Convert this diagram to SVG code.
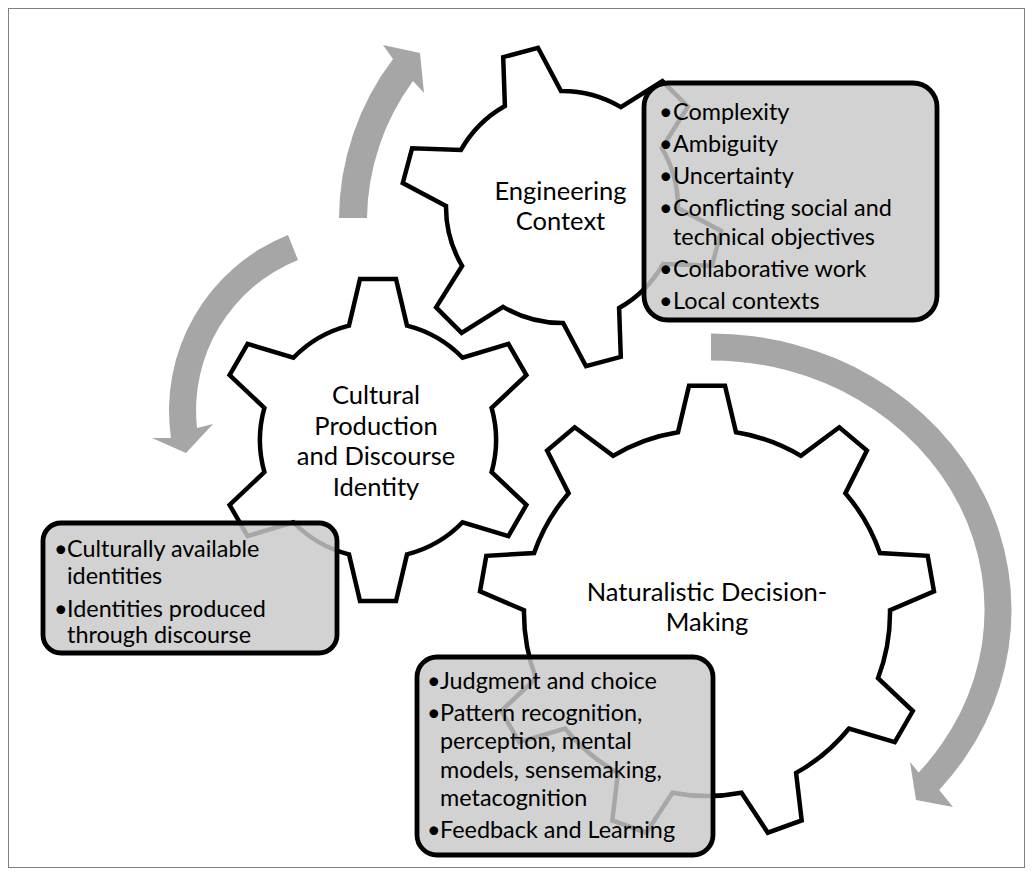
<svg xmlns="http://www.w3.org/2000/svg" width="1033" height="876" viewBox="0 0 1033 876">
<style>
.gear{fill:#ffffff;stroke:#000000;stroke-width:4.5;stroke-linejoin:miter}
.arrow{fill:#a6a6a6;stroke:none}
.box{fill:#c9c9c9;fill-opacity:0.83;stroke:#000000;stroke-width:4.8}
.gt{font-family:Lato,"Liberation Sans",sans-serif;font-size:25.5px;text-anchor:middle;fill:#000000}
.bt{font-family:Lato,"Liberation Sans",sans-serif;font-size:23.4px;fill:#000000}
</style>
<rect x="0" y="0" width="1033" height="876" fill="#ffffff"/>
<rect x="8.5" y="8.5" width="1016" height="859" fill="none" stroke="#7f7f7f" stroke-width="1"/>
<g id="connectors">
<path class="arrow" d="M339,218 A266,266 0 0 1 393,59 L383,45 L420,53 L424,93 L413,81 A237,237 0 0 0 367,218 Z"/>
<path class="arrow" d="M288,235 A189,189 0 0 0 171,438 L152,438 L186,453 L213,424 L197,428 A162,162 0 0 1 298,260 Z"/>
<path class="arrow" d="M711,333.5 A300.5,276.5 0 0 1 939.2,789.9 L953,807 L916,800 L910,762 L918.7,772.4 A273.5,249.5 0 0 0 711,360.5 Z"/>
</g>
<g id="gear-engineering">
<path class="gear" d="M446.0,205.9 L402.8,183.0 L412.1,148.2 L461.0,149.9 A116,116 0 0 1 504.9,106.0 L503.2,57.1 L538.0,47.8 L561.0,91.0 A116,116 0 0 1 620.9,107.1 L662.4,81.1 L687.9,106.6 L661.9,148.1 A116,116 0 0 1 678.0,208.1 L721.2,231.0 L711.9,265.8 L663.0,264.1 A116,116 0 0 1 619.1,308.0 L620.8,356.9 L586.0,366.2 L563.1,323.0 A116,116 0 0 1 503.1,306.9 L461.6,332.9 L436.1,307.4 L462.1,265.9 A116,116 0 0 1 446.0,205.9 Z"/>
<text class="gt" x="560.5" y="200">Engineering</text>
<text class="gt" x="560.5" y="230">Context</text>
</g>
<g id="gear-cultural">
<path class="gear" d="M349.0,325.6 L360.0,279.0 L396.0,279.0 L407.0,325.6 A118,118 0 0 1 462.6,357.7 L508.4,343.9 L526.4,375.1 L491.6,407.9 A118,118 0 0 1 491.6,472.1 L526.4,504.9 L508.4,536.1 L462.6,522.3 A118,118 0 0 1 407.0,554.4 L396.0,601.0 L360.0,601.0 L349.0,554.4 A118,118 0 0 1 293.4,522.3 L247.6,536.1 L229.6,504.9 L264.4,472.1 A118,118 0 0 1 264.4,407.9 L229.6,375.1 L247.6,343.9 L293.4,357.7 A118,118 0 0 1 349.0,325.6 Z"/>
<text class="gt" x="376" y="404">Cultural</text>
<text class="gt" x="376" y="434.5">Production</text>
<text class="gt" x="376" y="465">and Discourse</text>
<text class="gt" x="376" y="495.5">Identity</text>
</g>
<g id="gear-naturalistic">
<path class="gear" d="M678.0,432.3 L689.0,385.7 L725.0,385.7 L736.0,432.3 A183,183 0 0 1 800.9,455.9 L839.3,427.3 L866.9,450.5 L845.4,493.2 A183,183 0 0 1 879.9,553.1 L927.7,555.8 L934.0,591.3 L890.0,610.2 A183,183 0 0 1 878.0,678.2 L912.8,711.0 L894.8,742.2 L849.0,728.5 A183,183 0 0 1 796.1,772.9 L801.7,820.4 L767.8,832.7 L741.5,792.7 A183,183 0 0 1 672.5,792.7 L646.2,832.7 L612.3,820.4 L617.9,772.9 A183,183 0 0 1 565.0,728.5 L519.2,742.2 L501.2,711.0 L536.0,678.2 A183,183 0 0 1 524.0,610.2 L480.0,591.3 L486.3,555.8 L534.1,553.1 A183,183 0 0 1 568.6,493.2 L547.1,450.5 L574.7,427.3 L613.1,455.9 A183,183 0 0 1 678.0,432.3 Z"/>
<text class="gt" x="707" y="601">Naturalistic Decision-</text>
<text class="gt" x="707" y="631">Making</text>
</g>
<g id="box-engineering">
<rect class="box" x="644" y="83" width="293" height="237" rx="24" ry="24"/>
<text class="bt" x="659" y="120">•</text><text class="bt" x="673" y="120">Complexity</text>
<text class="bt" x="659" y="152">•</text><text class="bt" x="673" y="152">Ambiguity</text>
<text class="bt" x="659" y="184">•</text><text class="bt" x="673" y="184">Uncertainty</text>
<text class="bt" x="659" y="216">•</text><text class="bt" x="673" y="216">Conflicting social and</text>
<text class="bt" x="673" y="245">technical objectives</text>
<text class="bt" x="659" y="277">•</text><text class="bt" x="673" y="277">Collaborative work</text>
<text class="bt" x="659" y="309">•</text><text class="bt" x="673" y="309">Local contexts</text>
</g>
<g id="box-cultural">
<rect class="box" x="43" y="523" width="294" height="130" rx="18" ry="18"/>
<text class="bt" x="54" y="557">•</text><text class="bt" x="67" y="557">Culturally available</text>
<text class="bt" x="67" y="583.5">identities</text>
<text class="bt" x="54" y="617">•</text><text class="bt" x="67" y="617">Identities produced</text>
<text class="bt" x="67" y="643">through discourse</text>
</g>
<g id="box-naturalistic">
<rect class="box" x="417" y="657" width="296" height="198" rx="20" ry="20"/>
<text class="bt" x="427" y="689">•</text><text class="bt" x="440" y="689">Judgment and choice</text>
<text class="bt" x="427" y="720.5">•</text><text class="bt" x="440" y="720.5">Pattern recognition,</text>
<text class="bt" x="440" y="749">perception, mental</text>
<text class="bt" x="440" y="777.5">models, sensemaking,</text>
<text class="bt" x="440" y="806">metacognition</text>
<text class="bt" x="427" y="837.5">•</text><text class="bt" x="440" y="837.5">Feedback and Learning</text>
</g>
</svg>
